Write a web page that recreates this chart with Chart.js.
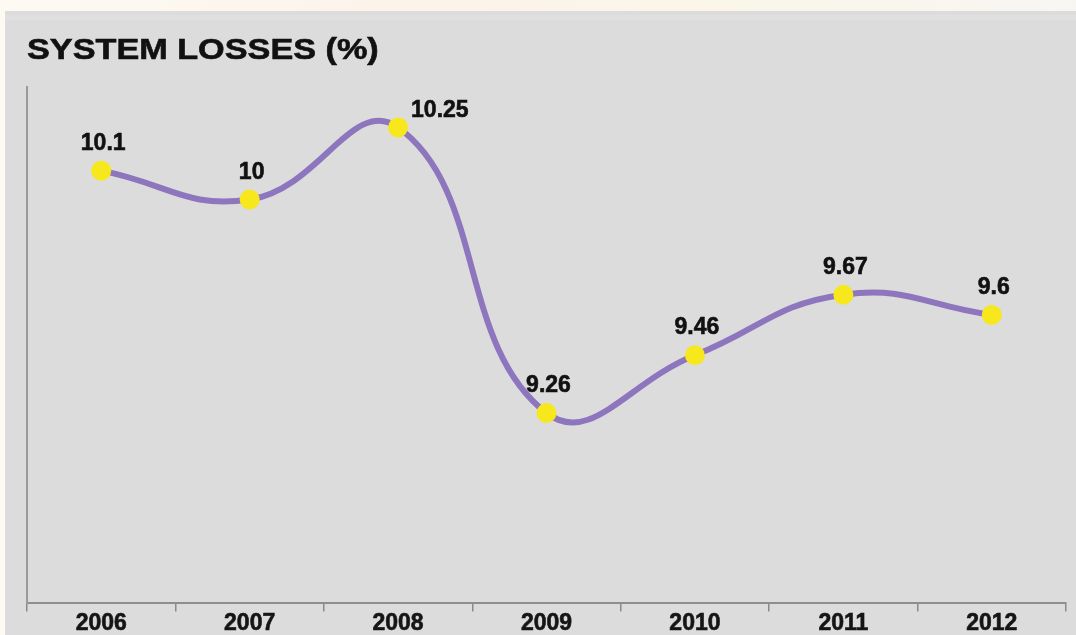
<!DOCTYPE html>
<html>
<head>
<meta charset="utf-8">
<script src="https://cdn.jsdelivr.net/npm/chart.js@4.4.1/dist/chart.umd.min.js"></script>
<style>
  html, body { margin: 0; padding: 0; background: #fbf7f1; }
  #wrap { width: 1076px; height: 635px; position: relative; }
</style>
</head>
<body>
<div id="wrap"><canvas id="c" width="1076" height="635"></canvas></div>
<script>
const titleText = 'SYSTEM LOSSES (%)';
const categories = ['2006', '2007', '2008', '2009', '2010', '2011', '2012'];
const lossValues = [10.1, 10, 10.25, 9.26, 9.46, 9.67, 9.6];
const valueLabels = ['10.1', '10', '10.25', '9.26', '9.46', '9.67', '9.6'];

const FONT = '"Liberation Sans", Arial, Helvetica, sans-serif';

const backgroundPlugin = {
  id: 'panelBg',
  beforeDraw(chart) {
    const ctx = chart.ctx;
    ctx.save();
    const g = ctx.createLinearGradient(0, 0, chart.width, 0);
    g.addColorStop(0, '#fdfaf4');
    g.addColorStop(0.4, '#fcf3ea');
    g.addColorStop(0.7, '#fbf6ea');
    g.addColorStop(1, '#f8f6f3');
    ctx.fillStyle = g;
    ctx.fillRect(0, 0, chart.width, chart.height);
    ctx.fillStyle = '#dcdcdc';
    ctx.fillRect(5, 11, chart.width - 5, chart.height - 11);
    ctx.fillStyle = '#e0e0e0';
    ctx.fillRect(5, 15, chart.width - 5, 5);
    // title (horizontally widened like the reference lettering)
    ctx.translate(27, 59);
    ctx.scale(1.18, 1);
    ctx.fillStyle = '#111111';
    ctx.strokeStyle = '#111111';
    ctx.lineWidth = 0.6;
    ctx.font = 'bold 29px ' + FONT;
    ctx.textAlign = 'left';
    ctx.textBaseline = 'alphabetic';
    ctx.fillText(titleText, 0, 0);
    ctx.strokeText(titleText, 0, 0);
    ctx.restore();
  }
};

const labelPlugin = {
  id: 'valueLabels',
  afterDatasetsDraw(chart) {
    const ctx = chart.ctx;
    const meta = chart.getDatasetMeta(0);
    const maxVal = Math.max(...lossValues);
    ctx.save();
    ctx.fillStyle = '#111111';
    ctx.strokeStyle = '#111111';
    ctx.lineWidth = 0.6;
    ctx.font = 'bold 23px ' + FONT;
    ctx.textBaseline = 'alphabetic';
    meta.data.forEach((pt, i) => {
      let x, y;
      if (lossValues[i] === maxVal) {
        ctx.textAlign = 'left';
        x = pt.x + 13; y = pt.y - 10;
      } else {
        ctx.textAlign = 'center';
        x = pt.x + 2; y = pt.y - 21;
      }
      ctx.fillText(valueLabels[i], x, y);
      ctx.strokeText(valueLabels[i], x, y);
    });
    ctx.restore();
  }
};

new Chart(document.getElementById('c'), {
  type: 'line',
  data: {
    labels: categories,
    datasets: [{
      data: lossValues,
      borderColor: '#8e76bf',
      borderWidth: 6,
      tension: 0.45,
      pointRadius: 10,
      pointHoverRadius: 10,
      pointBackgroundColor: '#f6e81c',
      pointBorderColor: '#f6e81c',
      pointBorderWidth: 0,
      fill: false
    }]
  },
  options: {
    responsive: false,
    animation: false,
    events: [],
    layout: { padding: { top: 87, left: 27, right: 10, bottom: 0 } },
    plugins: {
      legend: { display: false },
      title: { display: false },
      tooltip: { enabled: false }
    },
    scales: {
      x: {
        type: 'category',
        offset: true,
        grid: {
          display: true,
          offset: true,
          drawOnChartArea: false,
          drawTicks: true,
          tickLength: 8,
          color: '#8a8a8a',
          lineWidth: 1.5
        },
        border: { display: true, color: '#8e8e8e', width: 2 },
        ticks: {
          color: '#151515',
          padding: -2,
          textStrokeColor: '#151515',
          textStrokeWidth: 0.6,
          font: { family: FONT, size: 23, weight: 'bold' },
          maxRotation: 0
        }
      },
      y: {
        min: 8.6,
        max: 10.39,
        grid: { display: false, drawTicks: false },
        border: { display: true, color: '#9a9a9a', width: 2 },
        ticks: { display: false }
      }
    }
  },
  plugins: [backgroundPlugin, labelPlugin]
});
</script>
</body>
</html>
